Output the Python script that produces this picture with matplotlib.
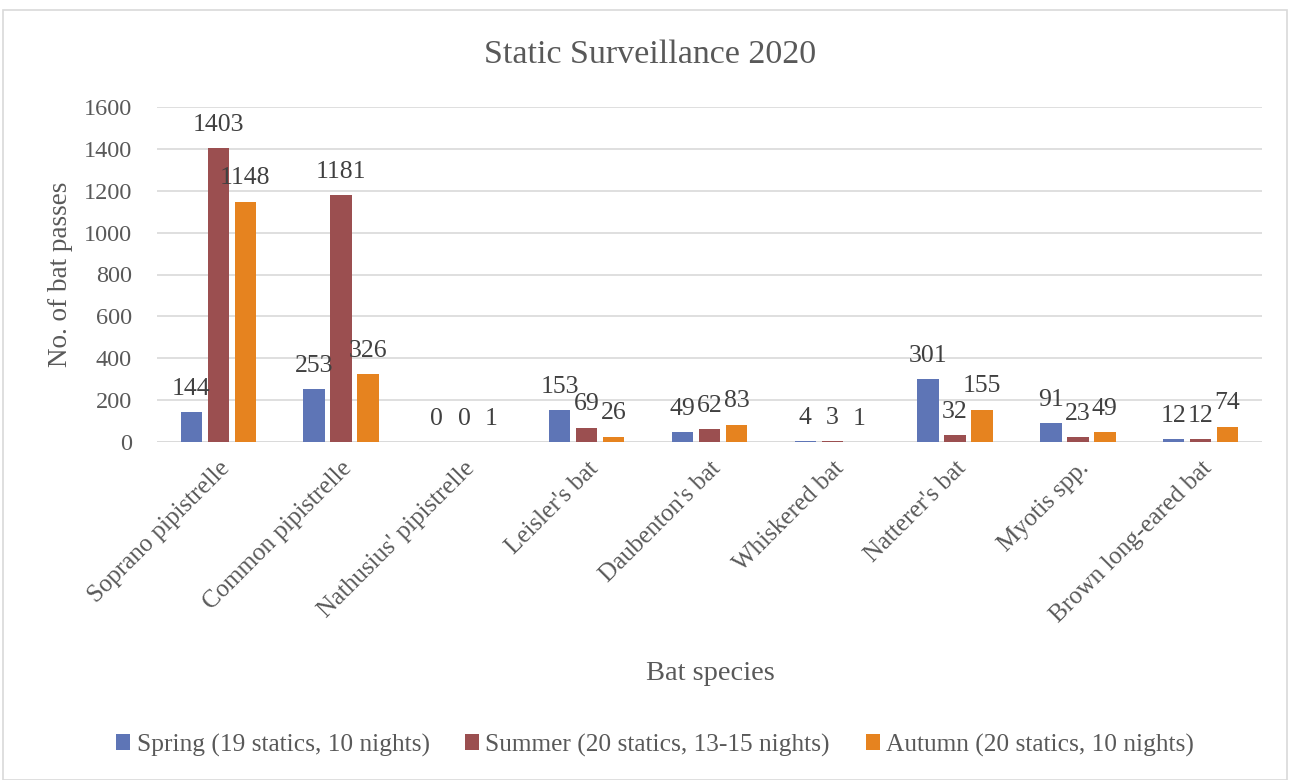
import matplotlib
matplotlib.use("Agg")
import matplotlib.pyplot as plt
import numpy as np
from matplotlib.patches import Rectangle

categories = ["Soprano pipistrelle", "Common pipistrelle", "Nathusius' pipistrelle",
              "Leisler's bat", "Daubenton's bat", "Whiskered bat", "Natterer's bat",
              "Myotis spp.", "Brown long-eared bat"]
spring = [144, 253, 0, 153, 49, 4, 301, 91, 12]
summer = [1403, 1181, 0, 69, 62, 3, 32, 23, 12]
autumn = [1148, 326, 1, 26, 83, 1, 155, 49, 74]
series_names = ["Spring (19 statics, 10 nights)", "Summer (20 statics, 13-15 nights)",
                "Autumn (20 statics, 10 nights)"]
yticks = [0, 200, 400, 600, 800, 1000, 1200, 1400, 1600]

colors = ["#5E75B6", "#9B4F50", "#E6831F"]
txt = "#595959"
plt.rcParams['font.family'] = ['Liberation Serif', 'DejaVu Serif']

fig = plt.figure(figsize=(12.9, 7.8), dpi=100)
fig.patches.append(Rectangle((3/1290, 0), 1284/1290, 1 - 10/780, transform=fig.transFigure,
                             fill=False, edgecolor="#D9D9D9", linewidth=1.2))
ax = fig.add_axes([157/1290, 1 - 442/780, (1262-157)/1290, (442-107)/780])

x = np.arange(len(categories))
w = 0.175
off = 0.22
for i, (vals, c, n) in enumerate(zip([spring, summer, autumn], colors, series_names)):
    bars = ax.bar(x + (i-1)*off, vals, width=w, color=c, label=n, zorder=3)
    for b, v in zip(bars, vals):
        ax.text(b.get_x() + b.get_width()/2, v + 58, str(v), ha="center", va="bottom",
                fontsize=18.5, color="#404040", zorder=4)

ax.set_xlim(-0.5, len(categories) - 0.5)
ax.set_ylim(0, 1600)
ax.set_yticks(yticks)
ax.set_yticklabels([str(t) for t in yticks], fontsize=17.5, color=txt)
ax.yaxis.grid(True, color="#D9D9D9", linewidth=1.2, zorder=0)
for s in ax.spines.values():
    s.set_visible(False)
ax.tick_params(axis="both", length=0)
ax.tick_params(axis="y", pad=18)
ax.set_xticks(x)
ax.set_xticklabels(categories, rotation=45, ha="right", rotation_mode="anchor",
                   fontsize=18, color=txt)
ax.tick_params(axis="x", pad=11)
ax.axhline(0, color="#D9D9D9", linewidth=1.2, zorder=2)

ax.set_ylabel("No. of bat passes", fontsize=19.5, color=txt)
ax.yaxis.set_label_coords((73-157)/1105, 0.5)
fig.text(710/1290, 1 - 673/780, "Bat species", ha="center", va="center", fontsize=20.5, color=txt)
fig.text(650/1290, 1 - 55/780, "Static Surveillance 2020", ha="center", va="center",
         fontsize=24.5, color=txt)

handles, labels = ax.get_legend_handles_labels()
leg = fig.legend(handles, labels, loc="center", bbox_to_anchor=(655/1290, 1 - 745/780),
                 ncol=3, frameon=False, fontsize=18.3, handlelength=0.55, handleheight=0.55,
                 handletextpad=0.25, columnspacing=1.4, labelcolor=txt)

fig.savefig("out.png", dpi=100)
